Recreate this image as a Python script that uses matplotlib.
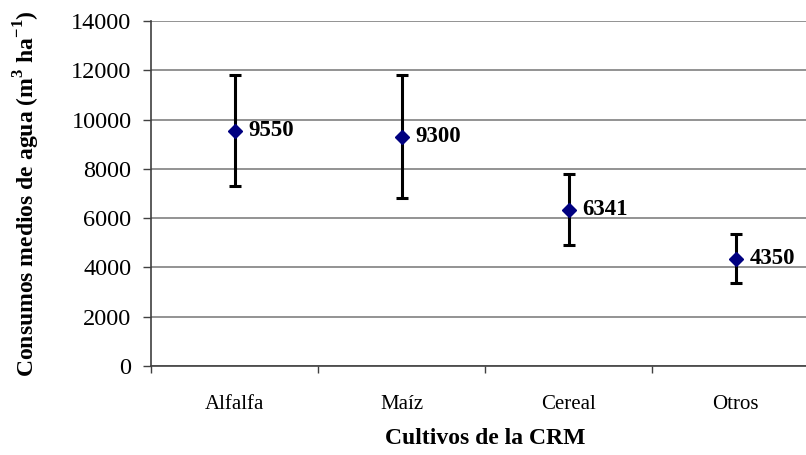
import numpy as np
import matplotlib

matplotlib.use("Agg")
import matplotlib.pyplot as plt

plt.rcParams.update({"font.family": ["Liberation Serif", "DejaVu Serif"],
                     "mathtext.fontset": "custom",
                     "mathtext.rm": "Liberation Serif",
                     "mathtext.bf": "Liberation Serif:bold"})

cultivos = ["Alfalfa", "Maíz", "Cereal", "Otros"]
consumo = [9550, 9300, 6341, 4350]
desv = [2250, 2500, 1450, 1000]

fig = plt.figure(figsize=(8.06, 4.55), dpi=100)
# the plot area runs a little past the right edge of the image
ax = fig.add_axes([151 / 806, 1 - 366 / 455, 668 / 806, 345 / 455])

x = np.arange(len(cultivos)) + 0.5
ax.errorbar(x, consumo, yerr=desv, fmt="none", ecolor="black",
            elinewidth=2.2, capsize=4.5, capthick=2.2, zorder=3)
ax.plot(x, consumo, ls="none", marker="D", ms=7.5, color="#000080", zorder=4)
for xi, v in zip(x, consumo):
    ax.annotate(f"{v}", (xi, v), xytext=(10, 0), textcoords="offset points",
                ha="left", va="center", fontsize=16.5, fontweight="bold")

ax.set_xlim(0, len(cultivos))
ax.set_ylim(0, 14000)
ax.set_yticks(np.arange(0, 14001, 2000))
ax.yaxis.grid(True, color="#808080", lw=1.2)
ax.set_axisbelow(True)

ax.set_xticks(np.arange(0, len(cultivos) + 1))
ax.set_xticklabels([])
ax.set_xticks(x, minor=True)
ax.set_xticklabels(cultivos, minor=True, fontsize=15)
ax.tick_params(axis="x", which="minor", length=0, pad=21)
ax.tick_params(axis="x", which="major", length=5, width=1, color="#404040")
ax.tick_params(axis="y", length=6, width=1, color="#404040", labelsize=17.5, pad=8)

for side in ["top", "right"]:
    ax.spines[side].set_visible(False)
for side in ["left", "bottom"]:
    ax.spines[side].set_color("#404040")
    ax.spines[side].set_linewidth(1.2)

fig.text(27 / 806, 1 - 193.5 / 455,
         r"Consumos medios de agua (m$^\mathbf{3}$ ha$^\mathbf{-1}$)",
         rotation=90, ha="center", va="center", fontsize=17, fontweight="bold")
ax.set_xlabel("Cultivos de la CRM", fontsize=17, fontweight="bold", labelpad=10)

fig.savefig("out.png", dpi=100)
